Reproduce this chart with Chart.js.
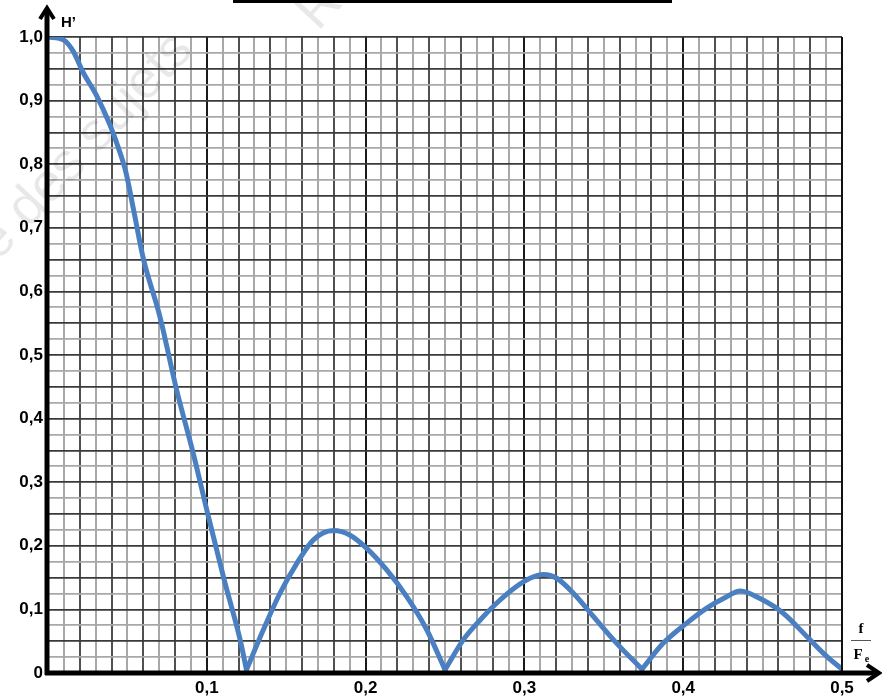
<!DOCTYPE html>
<html>
<head>
<meta charset="utf-8">
<script src="https://cdn.jsdelivr.net/npm/chart.js@4.4.1/dist/chart.umd.min.js"></script>
<style>
  html, body { margin: 0; padding: 0; background: #fff; }
  #wrap { width: 882px; height: 696px; position: relative; }
</style>
</head>
<body>
<div id="wrap"><canvas id="myChart" width="882" height="696"></canvas></div>
<script>
// values: f/Fe and H'
const fVals = [0, 0.01, 0.016, 0.022, 0.031, 0.039, 0.044, 0.049, 0.054, 0.06, 0.0705, 0.081, 0.0915,
  0.101, 0.111, 0.121, 0.125, 0.1356, 0.146, 0.1566, 0.167, 0.1797, 0.19, 0.2007, 0.2133, 0.2259, 0.2385,
  0.25, 0.2615, 0.272, 0.2826, 0.295, 0.3035, 0.312, 0.3204, 0.331, 0.3434, 0.358, 0.374, 0.3875, 0.402,
  0.4148, 0.4253, 0.436, 0.4484, 0.463, 0.478, 0.4904, 0.5];
const hVals = [1.0, 0.995, 0.977, 0.945, 0.906, 0.862, 0.828, 0.788, 0.727, 0.652, 0.56, 0.445, 0.345,
  0.246, 0.146, 0.052, 0.005, 0.068, 0.125, 0.172, 0.209, 0.224, 0.217, 0.196, 0.162, 0.12, 0.068,
  0.005, 0.052, 0.083, 0.11, 0.136, 0.149, 0.155, 0.149, 0.125, 0.089, 0.047, 0.006, 0.047, 0.078,
  0.102, 0.117, 0.129, 0.117, 0.094, 0.057, 0.026, 0.006];

const xTickLabels = ['0,1', '0,2', '0,3', '0,4', '0,5'];
const yTickLabels = ['0', '0,1', '0,2', '0,3', '0,4', '0,5', '0,6', '0,7', '0,8', '0,9', '1,0'];

// split the curve into lobes at its zeros so the dips stay sharp
const lobes = [];
let current = [];
fVals.forEach((f, i) => {
  current.push({ x: f, y: hVals[i] });
  if (i > 0 && hVals[i] < 0.01) {
    lobes.push(current);
    current = [{ x: f, y: hVals[i] }];
  }
});

// grid line styles (graph paper look)
function xGridColor(ctx) {
  const n = Math.round(ctx.tick.value * 100);
  if (n % 10 === 0) return '#1a1a1a';
  if (n % 2 === 0) return '#505050';
  return '#a8a8a8';
}
function yGridColor(ctx) {
  const n = Math.round(ctx.tick.value * 1000);
  if (n % 50 === 0) return '#3a3a3a';
  return '#a8a8a8';
}

// axes with arrows, labels and the rest of the page decorations
const decorations = {
  id: 'decorations',
  beforeDatasetsDraw(chart) {
    const c = chart.ctx;
    c.save();
    // faint watermark
    c.fillStyle = 'rgba(0,0,0,0.09)';
    c.font = '54px "Liberation Sans", Arial, sans-serif';
    c.translate(-2, 262);
    c.rotate(-0.82);
    c.fillText('e des sujets', 0, 0);
    c.setTransform(1, 0, 0, 1, 0, 0);
    c.translate(318, 32);
    c.rotate(-0.82);
    c.fillText('R', 0, 0);
    c.restore();
  },
  afterDraw(chart) {
    const c = chart.ctx;
    const a = chart.chartArea;
    const x0 = chart.scales.x.getPixelForValue(0);
    const y0 = chart.scales.y.getPixelForValue(0);
    c.save();

    // bar at the very top
    c.fillStyle = '#000';
    c.fillRect(233, 0, 439, 3);

    // right border
    c.strokeStyle = '#111';
    c.lineWidth = 2;
    c.beginPath();
    c.moveTo(a.right, a.top);
    c.lineTo(a.right, y0);
    c.stroke();

    // y axis
    c.strokeStyle = '#000';
    c.lineWidth = 5;
    c.lineCap = 'butt';
    c.beginPath();
    c.moveTo(x0 - 1, y0 + 2);
    c.lineTo(x0 - 1, 10);
    c.stroke();
    c.lineWidth = 4;
    c.lineJoin = 'miter';
    c.beginPath();
    c.moveTo(x0 - 8, 19);
    c.lineTo(x0 - 1, 8);
    c.lineTo(x0 + 6, 19);
    c.stroke();

    // x axis
    c.lineWidth = 5;
    c.beginPath();
    c.moveTo(x0 - 3, y0);
    c.lineTo(876, y0);
    c.stroke();
    c.lineWidth = 4;
    c.beginPath();
    c.moveTo(867, y0 - 8);
    c.lineTo(879, y0);
    c.lineTo(867, y0 + 8);
    c.stroke();

    // axis titles
    c.fillStyle = '#000';
    c.font = 'bold 15px "Liberation Sans", Arial, sans-serif';
    c.textAlign = 'left';
    c.textBaseline = 'alphabetic';
    c.fillText('H\u2019', 61, 27);

    c.font = 'bold 15px "Liberation Serif", "Times New Roman", serif';
    c.textAlign = 'center';
    c.fillText('f', 861, 633);
    c.strokeStyle = '#555';
    c.lineWidth = 1;
    c.beginPath();
    c.moveTo(851, 640.5);
    c.lineTo(871, 640.5);
    c.stroke();
    c.fillText('F', 858, 659);
    c.font = 'bold 10px "Liberation Serif", "Times New Roman", serif';
    c.fillText('e', 867, 662);
    c.restore();
  }
};

const data = {
  datasets: lobes.map((lobe) => ({
    label: "H'",
    data: lobe,
    borderColor: 'rgb(74, 127, 193)',
    borderWidth: 5,
    pointRadius: 0,
    cubicInterpolationMode: 'monotone',
    borderCapStyle: 'round',
    borderJoinStyle: 'round',
    fill: false
  }))
};

const config = {
  type: 'line',
  data: data,
  options: {
    responsive: false,
    animation: false,
    layout: { padding: { top: 37, right: 40, left: 0, bottom: 0 } },
    plugins: {
      legend: { display: false },
      tooltip: { enabled: false }
    },
    scales: {
      x: {
        type: 'linear',
        min: 0,
        max: 0.5,
        afterFit(scale) { scale.height = 23; },
        border: { display: false },
        grid: { color: xGridColor, lineWidth: 2, drawTicks: false },
        ticks: {
          stepSize: 0.01,
          autoSkip: false,
          maxRotation: 0,
          padding: 5,
          color: '#000',
          font: { family: '"Liberation Sans", Arial, sans-serif', size: 17, weight: 'bold' },
          callback(v) {
            const n = Math.round(v * 100);
            if (n === 0 || n % 10 !== 0) return '';
            return xTickLabels[n / 10 - 1];
          }
        }
      },
      y: {
        min: 0,
        max: 1,
        afterFit(scale) { scale.width = 48; },
        border: { display: false },
        grid: { color: yGridColor, lineWidth: 1.8, drawTicks: false },
        ticks: {
          stepSize: 0.025,
          autoSkip: false,
          padding: 5,
          color: '#000',
          font: { family: '"Liberation Sans", Arial, sans-serif', size: 17, weight: 'bold' },
          callback(v) {
            const n = Math.round(v * 1000);
            if (n % 100 !== 0) return '';
            return yTickLabels[n / 100];
          }
        }
      }
    }
  },
  plugins: [decorations]
};

const myChart = new Chart(document.getElementById('myChart'), config);
</script>
</body>
</html>
